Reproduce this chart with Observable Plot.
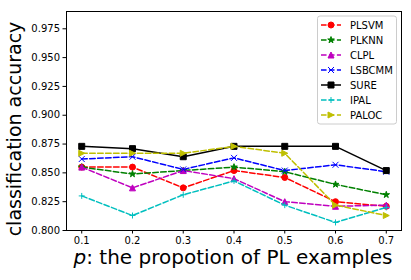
<!DOCTYPE html>
<html><head><meta charset="utf-8">
<script src="https://cdn.jsdelivr.net/npm/d3@7"></script>
<script src="https://cdn.jsdelivr.net/npm/@observablehq/plot@0.6"></script>
<style>body{margin:0;background:#fff;} svg{display:block;}</style>
</head><body><div id="chart"></div>
<script>
const ps = [0.1, 0.2, 0.3, 0.4, 0.5, 0.6, 0.7];
const yTicks = [0.800, 0.825, 0.850, 0.875, 0.900, 0.925, 0.950, 0.975];
const seriesNames = ["PLSVM", "PLKNN", "CLPL", "LSBCMM", "SURE", "IPAL", "PALOC"];
const PLSVM  = [0.855, 0.855, 0.837, 0.852, 0.846, 0.825, 0.821];
const PLKNN  = [0.855, 0.849, 0.852, 0.855, 0.851, 0.840, 0.831];
const CLPL   = [0.855, 0.837, 0.852, 0.845, 0.825, 0.821, 0.822];
const LSBCMM = [0.862, 0.864, 0.853, 0.863, 0.852, 0.857, 0.851];
const SURE   = [0.873, 0.871, 0.864, 0.873, 0.873, 0.873, 0.852];
const IPAL   = [0.830, 0.813, 0.831, 0.843, 0.822, 0.807, 0.820];
const PALOC  = [0.867, 0.867, 0.867, 0.873, 0.867, 0.822, 0.813];
const seriesValues = [PLSVM, PLKNN, CLPL, LSBCMM, SURE, IPAL, PALOC];
const colors = ["#ff0000", "#008000", "#bf00bf", "#0000ff", "#000000", "#00bfbf", "#bfbf00"];
const markerKinds = ["circle", "star", "triUp", "x", "square", "plus", "triRight"];
const dashed = [true, true, true, true, false, true, true];

function mk(kind) {
  return {draw(ctx, size) {
    const k = Math.sqrt(size / Math.PI);
    if (kind === "circle") { ctx.moveTo(k, 0); ctx.arc(0, 0, k, 0, 2 * Math.PI); }
    else if (kind === "square") { ctx.rect(-k, -k, 2 * k, 2 * k); }
    else if (kind === "triUp") { ctx.moveTo(0, -k); ctx.lineTo(-k, k); ctx.lineTo(k, k); ctx.closePath(); }
    else if (kind === "triRight") { ctx.moveTo(k, 0); ctx.lineTo(-k, -k); ctx.lineTo(-k, k); ctx.closePath(); }
    else if (kind === "x") { ctx.moveTo(-k, -k); ctx.lineTo(k, k); ctx.moveTo(-k, k); ctx.lineTo(k, -k); }
    else if (kind === "plus") { ctx.moveTo(-k, 0); ctx.lineTo(k, 0); ctx.moveTo(0, -k); ctx.lineTo(0, k); }
    else if (kind === "star") {
      const ki = k * 0.381966;
      for (let i = 0; i < 10; i++) {
        const a = -Math.PI / 2 + i * Math.PI / 5;
        const rr = i % 2 === 0 ? k * 1.15 : ki * 1.15;
        const px = rr * Math.cos(a), py = rr * Math.sin(a);
        if (i === 0) ctx.moveTo(px, py); else ctx.lineTo(px, py);
      }
      ctx.closePath();
    }
  }};
}
const isOpen = k => k === "x" || k === "plus";

const marks = [];
seriesNames.forEach((name, i) => {
  const data = ps.map((p, j) => ({p, v: seriesValues[i][j]}));
  marks.push(Plot.line(data, {x: "p", y: "v", stroke: colors[i], strokeWidth: 1.5,
    strokeDasharray: dashed[i] ? "5.55,2.4" : null}));
  const kind = markerKinds[i];
  marks.push(Plot.dot(data, {x: "p", y: "v", symbol: mk(kind), r: 3,
    fill: isOpen(kind) ? "none" : colors[i], stroke: colors[i], strokeWidth: 1}));
});

const chart = Plot.plot({
  width: 411, height: 280,
  marginLeft: 66, marginRight: 10, marginTop: 11, marginBottom: 50,
  style: {fontFamily: "DejaVu Sans", fontSize: "10px", color: "black", background: "white"},
  x: {domain: [0.07, 0.73]},
  y: {domain: [0.8, 0.99]},
  marks: [
    ...marks,
    Plot.axisX({ticks: ps, tickFormat: d => d.toFixed(1), tickSize: 3.5, tickPadding: 3, label: null}),
    Plot.axisY({ticks: yTicks, tickFormat: d => d.toFixed(3), tickSize: 3.5, tickPadding: 3, label: null}),
    Plot.frame({stroke: "black", strokeWidth: 1})
  ]
});
document.getElementById("chart").appendChild(chart);

const svg = d3.select(chart);
// axis titles
const xt = svg.append("text").attr("x", 233).attr("y", 264).attr("text-anchor", "middle")
  .style("font-family", "DejaVu Sans").style("font-size", "20px").attr("fill", "black");
xt.append("tspan").attr("font-style", "italic").text("p");
xt.append("tspan").text(": the propotion of PL examples");
svg.append("text").attr("transform", "translate(21,129) rotate(-90)").attr("text-anchor", "middle")
  .style("font-family", "DejaVu Sans").style("font-size", "19px").attr("fill", "black")
  .text("classification accuracy");

// legend
const lg = svg.append("g");
lg.append("rect").attr("x", 317.5).attr("y", 16).attr("width", 79).attr("height", 108).attr("rx", 2.5)
  .attr("fill", "white").attr("fill-opacity", 0.8).attr("stroke", "#cccccc").attr("stroke-width", 1);
seriesNames.forEach((name, i) => {
  const yy = 25 + i * 15;
  lg.append("line").attr("x1", 321).attr("x2", 341).attr("y1", yy).attr("y2", yy)
    .attr("stroke", colors[i]).attr("stroke-width", 1.5)
    .attr("stroke-dasharray", dashed[i] ? "5.55,2.4" : null);
  const kind = markerKinds[i];
  lg.append("path").attr("transform", `translate(331,${yy})`)
    .attr("d", d3.symbol(mk(kind), Math.PI * 9)())
    .attr("fill", isOpen(kind) ? "none" : colors[i]).attr("stroke", colors[i]).attr("stroke-width", 1);
  lg.append("text").attr("x", 350).attr("y", yy).attr("dy", "0.35em").attr("text-anchor", "start")
    .style("font-family", "DejaVu Sans").style("font-size", "10px").attr("fill", "black").text(name);
});
</script>
</body></html>
